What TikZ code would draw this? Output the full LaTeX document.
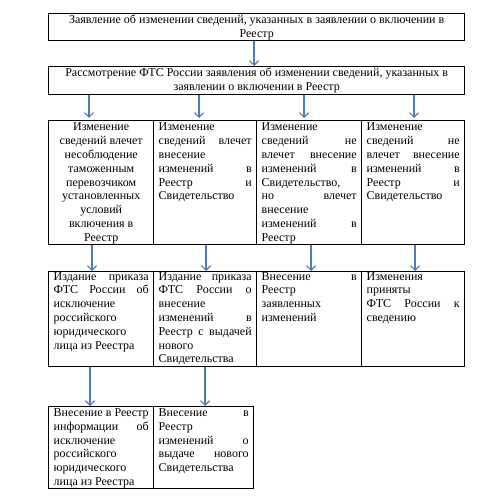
\documentclass[tikz,border=0pt]{standalone}
\usepackage{fontspec}
\setmainfont{Liberation Serif}
\usetikzlibrary{arrows.meta}
\definecolor{arrowblue}{RGB}{74,126,187}
\newcommand\cellfont{\fontsize{12}{13.8}\selectfont}
\newcommand\jline[1]{\hbox to\linewidth{#1}}
\newcommand\lline[1]{\hbox{#1}}
\newcommand\cenl[1]{\hbox to\linewidth{\hss#1\hss}}
% name, x1, y1, x2, y2, baseline offset, text
\newcommand\cellnode[7]{%
  \node[box, minimum width={#4-#2}, minimum height={#5-#3}] (#1) at (#2,#3) {};
  \node[txt] (#1t) at (#2+5.5,#3+#6) {\parbox[t]{\dimexpr#4pt-#2pt-10pt\relax}{\cellfont #7}};
}
\tikzset{
  box/.style={draw=black, line width=0.8pt, inner sep=0pt, anchor=north west},
  arr/.style={draw=arrowblue, line width=1.6pt, -{Straight Barb[length=4.5pt,width=9pt,line width=1.2pt]}},
  txt/.style={anchor=base west, inner sep=0pt, text=black}
}
\begin{document}
\begin{tikzpicture}[x=1pt,y=-1pt]
\useasboundingbox (0,0) rectangle (490,502);
% top boxes
\cellnode{b1}{48}{13}{464}{40}{10.5}{%
  \cenl{Заявление об изменении сведений, указанных в заявлении о включении в}
  \cenl{Реестр}}
\cellnode{b2}{48}{66}{464}{94}{11}{%
  \cenl{Рассмотрение ФТС России заявления об изменении сведений, указанных в}
  \cenl{заявлении о включении в Реестр}}
% row 3
\cellnode{r3a}{48}{120}{153}{244}{11}{%
  \cenl{Изменение}\cenl{сведений влечет}\cenl{несоблюдение}\cenl{таможенным}
  \cenl{перевозчиком}\cenl{установленных}\cenl{условий}\cenl{включения в}\cenl{Реестр}}
\cellnode{r3b}{153}{120}{256}{244}{11}{%
  \lline{Изменение}\jline{сведений влечет}\lline{внесение}\jline{изменений в}
  \jline{Реестр и}\lline{Свидетельство}}
\cellnode{r3c}{256}{120}{361}{244}{11}{%
  \lline{Изменение}\jline{сведений не}\jline{влечет внесение}\jline{изменений в}
  \lline{Свидетельство,}\jline{но влечет}\lline{внесение}\jline{изменений в}\lline{Реестр}}
\cellnode{r3d}{361}{120}{464}{244}{11}{%
  \lline{Изменение}\jline{сведений не}\jline{влечет внесение}\jline{изменений в}
  \jline{Реестр и}\lline{Свидетельство}}
% row 4
\cellnode{r4a}{48}{271}{153}{366}{9}{%
  \jline{Издание приказа}\jline{ФТС России об}\lline{исключение}\lline{российского}
  \lline{юридического}\lline{лица из Реестра}}
\cellnode{r4b}{153}{271}{256}{366}{9}{%
  \jline{Издание приказа}\jline{ФТС России о}\lline{внесение}\jline{изменений в}
  \jline{Реестр с выдачей}\lline{нового}\lline{Свидетельства}}
\cellnode{r4c}{256}{271}{361}{366}{9}{%
  \jline{Внесение в}\lline{Реестр}\lline{заявленных}\lline{изменений}}
\cellnode{r4d}{361}{271}{464}{366}{9}{%
  \lline{Изменения}\lline{приняты}\jline{ФТС России к}\lline{сведению}}
% row 5
\cellnode{r5a}{48}{406}{153}{488}{10.5}{%
  \jline{Внесение в Реестр}\jline{информации об}\lline{исключение}\lline{российского}
  \lline{юридического}\lline{лица из Реестра}}
\cellnode{r5b}{153}{406}{253}{488}{10.5}{%
  \jline{Внесение в}\lline{Реестр}\jline{изменений о}\jline{выдаче нового}\lline{Свидетельства}}
% arrows
\draw[arr] (254,0 |- b1.south) -- (254,0 |- b2.north);
\draw[arr] (89,0 |- b2.south) -- (89,118);
\draw[arr] (199,0 |- b2.south) -- (199,118);
\draw[arr] (304,0 |- b2.south) -- (304,118);
\draw[arr] (414,0 |- b2.south) -- (414,118);
\draw[arr] (92,0 |- r3a.south) -- (92,0 |- r4a.north);
\draw[arr] (206,0 |- r3b.south) -- (206,0 |- r4b.north);
\draw[arr] (311,0 |- r3c.south) -- (311,0 |- r4c.north);
\draw[arr] (415,0 |- r3d.south) -- (415,0 |- r4d.north);
\draw[arr] (90,0 |- r4a.south) -- (90,0 |- r5a.north);
\draw[arr] (205,0 |- r4b.south) -- (205,0 |- r5b.north);
\end{tikzpicture}
\end{document}
